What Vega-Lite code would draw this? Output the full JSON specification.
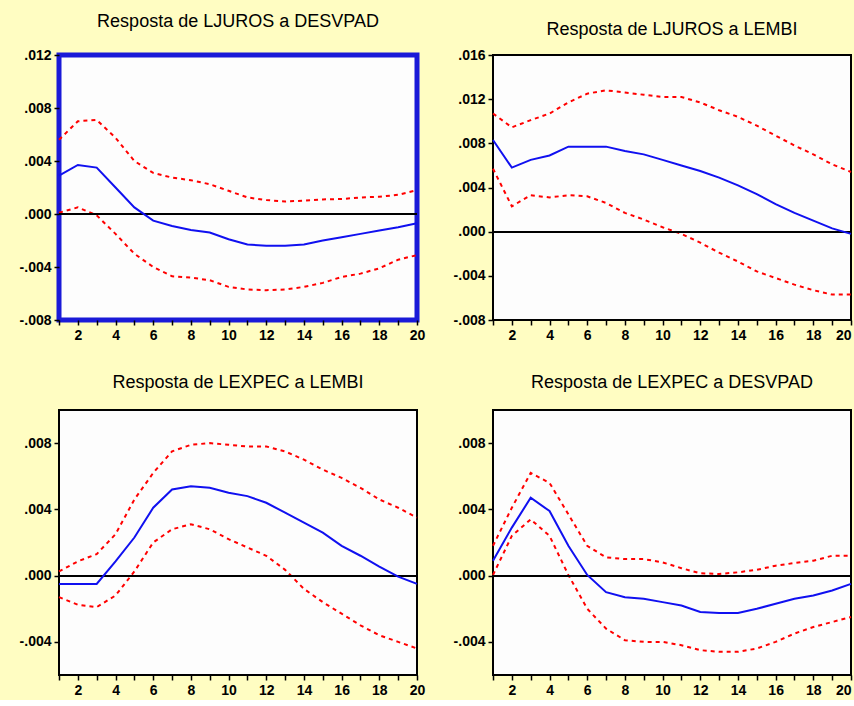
{
  "$schema": "https://vega.github.io/schema/vega-lite/v6.json",
  "background": "#FFFDC2",
  "padding": {"left": 16, "top": 10, "right": 2, "bottom": 2},
  "columns": 2,
  "spacing": {"row": 28, "column": 24},
  "datasets": {
    "d": [
      {"p":"A","h":1,"irf":0.0029,"lo":0.0001,"hi":0.0056},
      {"p":"A","h":2,"irf":0.0037,"lo":0.0005,"hi":0.0070},
      {"p":"A","h":3,"irf":0.0035,"lo":-0.0001,"hi":0.0071},
      {"p":"A","h":4,"irf":0.0020,"lo":-0.0015,"hi":0.00575},
      {"p":"A","h":5,"irf":0.0005,"lo":-0.0030,"hi":0.0040},
      {"p":"A","h":6,"irf":-0.0005,"lo":-0.0040,"hi":0.0031},
      {"p":"A","h":7,"irf":-0.0009,"lo":-0.0047,"hi":0.00275},
      {"p":"A","h":8,"irf":-0.0012,"lo":-0.0048,"hi":0.00255},
      {"p":"A","h":9,"irf":-0.0014,"lo":-0.0050,"hi":0.00225},
      {"p":"A","h":10,"irf":-0.0019,"lo":-0.0055,"hi":0.00175},
      {"p":"A","h":11,"irf":-0.0023,"lo":-0.0057,"hi":0.00125},
      {"p":"A","h":12,"irf":-0.0024,"lo":-0.00575,"hi":0.00105},
      {"p":"A","h":13,"irf":-0.0024,"lo":-0.0057,"hi":0.00095},
      {"p":"A","h":14,"irf":-0.0023,"lo":-0.0055,"hi":0.0010},
      {"p":"A","h":15,"irf":-0.0020,"lo":-0.0052,"hi":0.0011},
      {"p":"A","h":16,"irf":-0.00175,"lo":-0.00475,"hi":0.00113},
      {"p":"A","h":17,"irf":-0.0015,"lo":-0.0045,"hi":0.00125},
      {"p":"A","h":18,"irf":-0.00125,"lo":-0.0041,"hi":0.0013},
      {"p":"A","h":19,"irf":-0.0010,"lo":-0.00345,"hi":0.00145},
      {"p":"A","h":20,"irf":-0.0007,"lo":-0.0031,"hi":0.0018},

      {"p":"B","h":1,"irf":0.0083,"lo":0.0057,"hi":0.0107},
      {"p":"B","h":2,"irf":0.0058,"lo":0.0023,"hi":0.00945},
      {"p":"B","h":3,"irf":0.0065,"lo":0.0033,"hi":0.0101},
      {"p":"B","h":4,"irf":0.0069,"lo":0.0031,"hi":0.0107},
      {"p":"B","h":5,"irf":0.0077,"lo":0.0033,"hi":0.0117},
      {"p":"B","h":6,"irf":0.0077,"lo":0.0032,"hi":0.0125},
      {"p":"B","h":7,"irf":0.0077,"lo":0.0026,"hi":0.0128},
      {"p":"B","h":8,"irf":0.0073,"lo":0.0017,"hi":0.0126},
      {"p":"B","h":9,"irf":0.0070,"lo":0.0011,"hi":0.0124},
      {"p":"B","h":10,"irf":0.0065,"lo":0.0004,"hi":0.0122},
      {"p":"B","h":11,"irf":0.0060,"lo":-0.0002,"hi":0.0122},
      {"p":"B","h":12,"irf":0.0055,"lo":-0.0010,"hi":0.0117},
      {"p":"B","h":13,"irf":0.0049,"lo":-0.0019,"hi":0.0110},
      {"p":"B","h":14,"irf":0.0042,"lo":-0.0027,"hi":0.0104},
      {"p":"B","h":15,"irf":0.0034,"lo":-0.0036,"hi":0.0096},
      {"p":"B","h":16,"irf":0.0025,"lo":-0.0042,"hi":0.0087},
      {"p":"B","h":17,"irf":0.0017,"lo":-0.0048,"hi":0.0078},
      {"p":"B","h":18,"irf":0.0010,"lo":-0.0053,"hi":0.0070},
      {"p":"B","h":19,"irf":0.0003,"lo":-0.0057,"hi":0.0061},
      {"p":"B","h":20,"irf":-0.0002,"lo":-0.0057,"hi":0.0054},

      {"p":"C","h":1,"irf":-0.0005,"lo":-0.0013,"hi":0.00025},
      {"p":"C","h":2,"irf":-0.0005,"lo":-0.00176,"hi":0.00086},
      {"p":"C","h":3,"irf":-0.0005,"lo":-0.0019,"hi":0.0013},
      {"p":"C","h":4,"irf":0.00086,"lo":-0.0012,"hi":0.0025},
      {"p":"C","h":5,"irf":0.0023,"lo":0.00025,"hi":0.0046},
      {"p":"C","h":6,"irf":0.0041,"lo":0.0020,"hi":0.0062},
      {"p":"C","h":7,"irf":0.0052,"lo":0.0028,"hi":0.0075},
      {"p":"C","h":8,"irf":0.0054,"lo":0.0031,"hi":0.0079},
      {"p":"C","h":9,"irf":0.0053,"lo":0.0028,"hi":0.0080},
      {"p":"C","h":10,"irf":0.0050,"lo":0.0022,"hi":0.0079},
      {"p":"C","h":11,"irf":0.0048,"lo":0.0017,"hi":0.0078},
      {"p":"C","h":12,"irf":0.0044,"lo":0.0012,"hi":0.0078},
      {"p":"C","h":13,"irf":0.0038,"lo":0.00035,"hi":0.0075},
      {"p":"C","h":14,"irf":0.0032,"lo":-0.0008,"hi":0.0070},
      {"p":"C","h":15,"irf":0.0026,"lo":-0.0016,"hi":0.0064},
      {"p":"C","h":16,"irf":0.0018,"lo":-0.0023,"hi":0.0059},
      {"p":"C","h":17,"irf":0.0012,"lo":-0.0030,"hi":0.0053},
      {"p":"C","h":18,"irf":0.00055,"lo":-0.0036,"hi":0.0046},
      {"p":"C","h":19,"irf":-0.00006,"lo":-0.0040,"hi":0.0041},
      {"p":"C","h":20,"irf":-0.0005,"lo":-0.0044,"hi":0.0035},

      {"p":"D","h":1,"irf":0.0009,"lo":0.00004,"hi":0.0018},
      {"p":"D","h":2,"irf":0.0029,"lo":0.0024,"hi":0.0041},
      {"p":"D","h":3,"irf":0.0047,"lo":0.0034,"hi":0.0062},
      {"p":"D","h":4,"irf":0.0039,"lo":0.0024,"hi":0.0056},
      {"p":"D","h":5,"irf":0.0018,"lo":0.00004,"hi":0.0037},
      {"p":"D","h":6,"irf":0.00004,"lo":-0.0020,"hi":0.0018},
      {"p":"D","h":7,"irf":-0.0010,"lo":-0.0032,"hi":0.0011},
      {"p":"D","h":8,"irf":-0.0013,"lo":-0.0039,"hi":0.0010},
      {"p":"D","h":9,"irf":-0.0014,"lo":-0.0040,"hi":0.0010},
      {"p":"D","h":10,"irf":-0.0016,"lo":-0.0040,"hi":0.0008},
      {"p":"D","h":11,"irf":-0.0018,"lo":-0.0042,"hi":0.00045},
      {"p":"D","h":12,"irf":-0.0022,"lo":-0.0045,"hi":0.00014},
      {"p":"D","h":13,"irf":-0.00225,"lo":-0.0046,"hi":0.0001},
      {"p":"D","h":14,"irf":-0.00225,"lo":-0.0046,"hi":0.0002},
      {"p":"D","h":15,"irf":-0.0020,"lo":-0.0044,"hi":0.00035},
      {"p":"D","h":16,"irf":-0.0017,"lo":-0.0040,"hi":0.0006},
      {"p":"D","h":17,"irf":-0.0014,"lo":-0.0035,"hi":0.00076},
      {"p":"D","h":18,"irf":-0.0012,"lo":-0.0031,"hi":0.0009},
      {"p":"D","h":19,"irf":-0.0009,"lo":-0.0028,"hi":0.0012},
      {"p":"D","h":20,"irf":-0.0005,"lo":-0.0025,"hi":0.0012}
    ]
  },
  "config": {
    "view": {"stroke": "black", "strokeWidth": 2, "fill": "#FDFDFD"},
    "axis": {
      "grid": false, "domain": false, "title": null,
      "labelFont": "Liberation Sans", "labelFontSize": 14, "labelFontWeight": "bold", "labelColor": "black",
      "tickColor": "black", "tickWidth": 1.5, "tickSize": 5, "labelPadding": 3,
      "labelOverlap": false, "labelBound": false, "labelFlush": false
    },
    "axisX": {"tickCount": 40},
    "title": {"font": "Liberation Sans", "fontSize": 18, "fontWeight": "normal", "color": "black", "anchor": "middle"},
    "line": {"strokeWidth": 2}
  },
  "concat": [
    {
      "title": {"text": "Resposta de LJUROS a DESVPAD", "offset": 17},
      "width": 358, "height": 265,
      "view": {"stroke": "#1a1ad8", "strokeWidth": 5},
      "data": {"name": "d"},
      "transform": [{"filter": "datum.p == 'A'"}],
      "layer": [
        {"mark": {"type": "line", "color": "#FF0000", "strokeDash": [4, 4]},
         "encoding": {
           "x": {"field": "h", "type": "quantitative", "scale": {"domain": [1, 20], "nice": false, "zero": false},
                 "axis": {"values": [1,2,3,4,5,6,7,8,9,10,11,12,13,14,15,16,17,18,19,20], "tickCount": 40, "labelExpr": "datum.value % 2 == 0 ? '' + datum.value : ''"}},
           "y": {"field": "hi", "type": "quantitative", "scale": {"domain": [-0.008, 0.012], "nice": false, "zero": false},
                 "axis": {"values": [-0.008, -0.004, 0, 0.004, 0.008, 0.012], "labelExpr": "(datum.value < 0 ? '-' : '') + replace(format(abs(datum.value), '.3f'), '0.', '.')"}}
         }},
        {"mark": {"type": "line", "color": "#FF0000", "strokeDash": [4, 4]},
         "encoding": {"x": {"field": "h", "type": "quantitative"}, "y": {"field": "lo", "type": "quantitative"}}},
        {"mark": {"type": "rule", "color": "black", "strokeWidth": 1.5},
         "encoding": {"y": {"datum": 0}}},
        {"mark": {"type": "line", "color": "#1010F0"},
         "encoding": {"x": {"field": "h", "type": "quantitative"}, "y": {"field": "irf", "type": "quantitative"}}}
      ]
    },
    {
      "title": {"text": "Resposta de LJUROS a LEMBI", "offset": 9},
      "width": 358, "height": 265,
      "data": {"name": "d"},
      "transform": [{"filter": "datum.p == 'B'"}],
      "layer": [
        {"mark": {"type": "line", "color": "#FF0000", "strokeDash": [4, 4]},
         "encoding": {
           "x": {"field": "h", "type": "quantitative", "scale": {"domain": [1, 20], "nice": false, "zero": false},
                 "axis": {"values": [1,2,3,4,5,6,7,8,9,10,11,12,13,14,15,16,17,18,19,20], "tickCount": 40, "labelFlush": true, "labelExpr": "datum.value % 2 == 0 ? '' + datum.value : ''"}},
           "y": {"field": "hi", "type": "quantitative", "scale": {"domain": [-0.008, 0.016], "nice": false, "zero": false},
                 "axis": {"values": [-0.008, -0.004, 0, 0.004, 0.008, 0.012, 0.016], "labelExpr": "(datum.value < 0 ? '-' : '') + replace(format(abs(datum.value), '.3f'), '0.', '.')"}}
         }},
        {"mark": {"type": "line", "color": "#FF0000", "strokeDash": [4, 4]},
         "encoding": {"x": {"field": "h", "type": "quantitative"}, "y": {"field": "lo", "type": "quantitative"}}},
        {"mark": {"type": "rule", "color": "black", "strokeWidth": 1.5},
         "encoding": {"y": {"datum": 0}}},
        {"mark": {"type": "line", "color": "#1010F0"},
         "encoding": {"x": {"field": "h", "type": "quantitative"}, "y": {"field": "irf", "type": "quantitative"}}}
      ]
    },
    {
      "title": {"text": "Resposta de LEXPEC a LEMBI", "offset": 18},
      "width": 358, "height": 265,
      "data": {"name": "d"},
      "transform": [{"filter": "datum.p == 'C'"}],
      "layer": [
        {"mark": {"type": "line", "color": "#FF0000", "strokeDash": [4, 4]},
         "encoding": {
           "x": {"field": "h", "type": "quantitative", "scale": {"domain": [1, 20], "nice": false, "zero": false},
                 "axis": {"values": [1,2,3,4,5,6,7,8,9,10,11,12,13,14,15,16,17,18,19,20], "tickCount": 40, "labelExpr": "datum.value % 2 == 0 ? '' + datum.value : ''"}},
           "y": {"field": "hi", "type": "quantitative", "scale": {"domain": [-0.006, 0.010], "nice": false, "zero": false},
                 "axis": {"values": [-0.004, 0, 0.004, 0.008], "labelExpr": "(datum.value < 0 ? '-' : '') + replace(format(abs(datum.value), '.3f'), '0.', '.')"}}
         }},
        {"mark": {"type": "line", "color": "#FF0000", "strokeDash": [4, 4]},
         "encoding": {"x": {"field": "h", "type": "quantitative"}, "y": {"field": "lo", "type": "quantitative"}}},
        {"mark": {"type": "rule", "color": "black", "strokeWidth": 1.5},
         "encoding": {"y": {"datum": 0}}},
        {"mark": {"type": "line", "color": "#1010F0"},
         "encoding": {"x": {"field": "h", "type": "quantitative"}, "y": {"field": "irf", "type": "quantitative"}}}
      ]
    },
    {
      "title": {"text": "Resposta de LEXPEC a DESVPAD", "offset": 18},
      "width": 358, "height": 265,
      "data": {"name": "d"},
      "transform": [{"filter": "datum.p == 'D'"}],
      "layer": [
        {"mark": {"type": "line", "color": "#FF0000", "strokeDash": [4, 4]},
         "encoding": {
           "x": {"field": "h", "type": "quantitative", "scale": {"domain": [1, 20], "nice": false, "zero": false},
                 "axis": {"values": [1,2,3,4,5,6,7,8,9,10,11,12,13,14,15,16,17,18,19,20], "tickCount": 40, "labelFlush": true, "labelExpr": "datum.value % 2 == 0 ? '' + datum.value : ''"}},
           "y": {"field": "hi", "type": "quantitative", "scale": {"domain": [-0.006, 0.010], "nice": false, "zero": false},
                 "axis": {"values": [-0.004, 0, 0.004, 0.008], "labelExpr": "(datum.value < 0 ? '-' : '') + replace(format(abs(datum.value), '.3f'), '0.', '.')"}}
         }},
        {"mark": {"type": "line", "color": "#FF0000", "strokeDash": [4, 4]},
         "encoding": {"x": {"field": "h", "type": "quantitative"}, "y": {"field": "lo", "type": "quantitative"}}},
        {"mark": {"type": "rule", "color": "black", "strokeWidth": 1.5},
         "encoding": {"y": {"datum": 0}}},
        {"mark": {"type": "line", "color": "#1010F0"},
         "encoding": {"x": {"field": "h", "type": "quantitative"}, "y": {"field": "irf", "type": "quantitative"}}}
      ]
    }
  ]
}
